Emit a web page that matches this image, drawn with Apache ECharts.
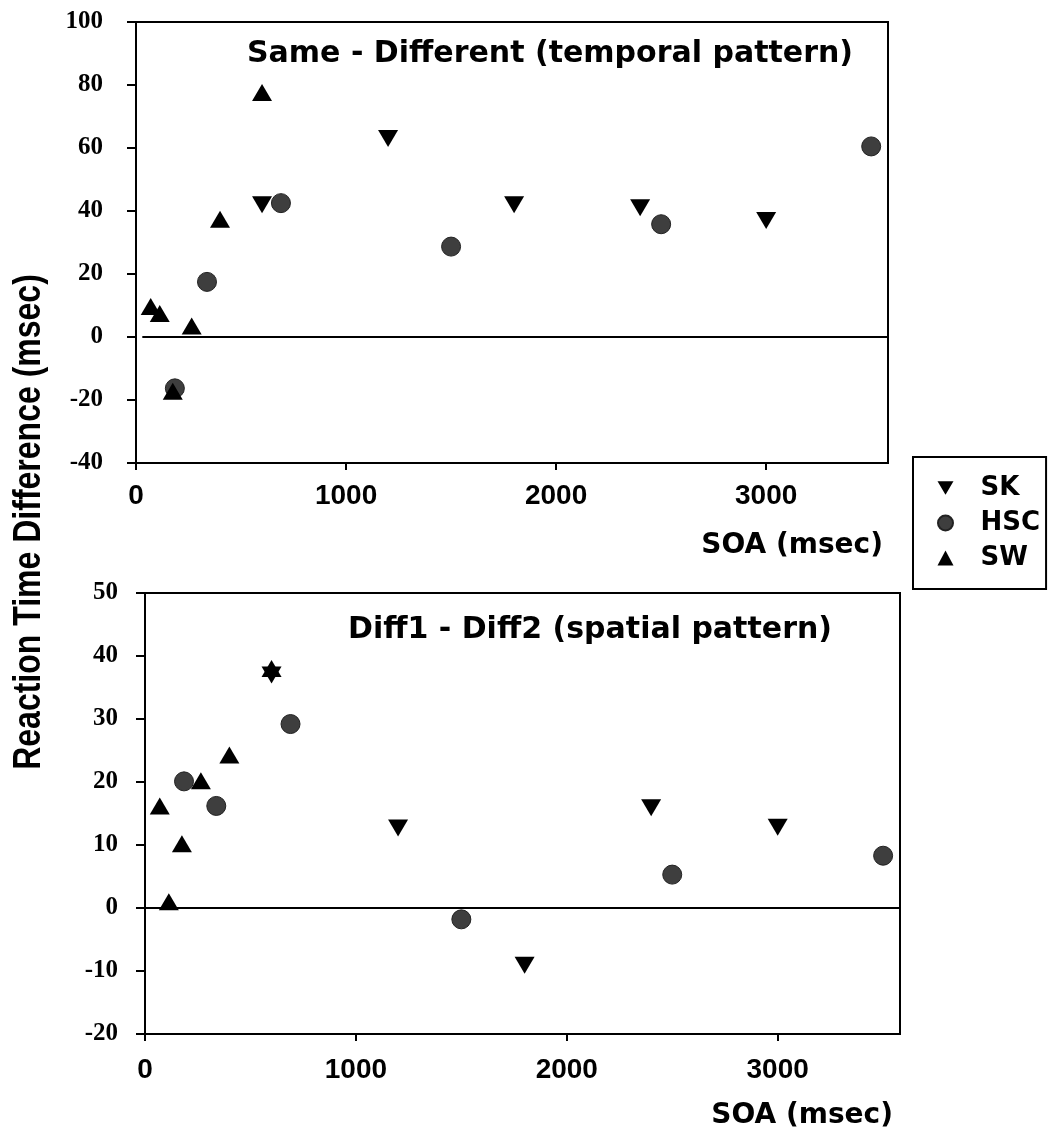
<!DOCTYPE html>
<html>
<head>
<meta charset="utf-8">
<script src="https://cdn.jsdelivr.net/npm/echarts@6/dist/echarts.min.js"></script>
<style>
  html, body { margin: 0; padding: 0; background: #fff; }
  #chart { width: 1048px; height: 1139px; }
</style>
</head>
<body>
<div id="chart"></div>
<script>
// SOA values (msec) for each observer
const skSoa  = [600, 1200, 1800, 2400, 3000];
const hscSoa = [185, 338, 690, 1500, 2500, 3500];
const swSoa  = [70, 113, 175, 265, 400, 600];

// Same - Different (temporal pattern), reaction time difference (msec)
const skTemporal  = [42, 63, 42, 41, 37];
const hscTemporal = [-16.3, 17.5, 42.5, 28.7, 35.8, 60.5];
const swTemporal  = [9.7, 7.5, -17.2, 3.5, 37.4, 77.6];

// Diff1 - Diff2 (spatial pattern), reaction time difference (msec)
const skSpatial  = [37, 12.7, -9.1, 15.9, 12.8];
const hscSpatial = [20.1, 16.2, 29.2, -1.8, 5.3, 8.3];
const swSpatial  = [16.2, 1.0, 10.2, 20.2, 24.3, 38];

const observers = ['SK', 'HSC', 'SW'];
const xTicks = [0, 1000, 2000, 3000];
const soaMax = 3580;
const temporalRange = { min: -40, max: 100, step: 20 };
const spatialRange  = { min: -20, max: 50, step: 10 };

const pair = (xs, ys) => xs.map((x, i) => [x, ys[i]]);

const sans = 'DejaVu Sans';
const black = '#000';
const downTriangle = 'path://M0,0 L20,0 L10,17 Z';

const markerStyle = {
  SK:  { symbol: 'triangle', symbolRotate: 180, symbolSize: [20, 17], itemStyle: { color: black, opacity: 1 } },
  HSC: { symbol: 'circle', symbolRotate: 0, symbolSize: 19, itemStyle: { color: '#3e3e3e', borderColor: '#222', borderWidth: 1, opacity: 1 } },
  SW:  { symbol: 'triangle', symbolRotate: 0, symbolSize: [20, 17], itemStyle: { color: black, opacity: 1 } }
};
const legendIcons = { SK: downTriangle, HSC: 'circle', SW: 'triangle' };

function makeX(gridIndex) {
  return {
    type: 'value', gridIndex, min: 0, max: soaMax, interval: 1000,
    axisLine: { show: true, onZero: false, lineStyle: { color: black, width: 2 } },
    axisTick: { show: true, inside: false, length: 7, lineStyle: { color: black, width: 2 } },
    axisLabel: {
      margin: gridIndex === 0 ? 19 : 22,
      color: black, fontFamily: 'Liberation Sans', fontWeight: 'bold', fontSize: 28,
      showMaxLabel: false,
      formatter: v => (xTicks.indexOf(v) >= 0 ? String(v) : '')
    },
    splitLine: { show: false }
  };
}

function makeY(gridIndex, r) {
  return {
    type: 'value', gridIndex, min: r.min, max: r.max, interval: r.step,
    axisLine: { show: true, onZero: false, lineStyle: { color: black, width: 2 } },
    axisTick: { show: true, length: 9, lineStyle: { color: black, width: 2 } },
    axisLabel: {
      margin: gridIndex === 0 ? 33 : 27,
      color: black, fontFamily: 'Liberation Serif', fontWeight: 'bold', fontSize: 25
    },
    splitLine: { show: false }
  };
}

function zeroLine(startX) {
  return {
    silent: true, symbol: 'none', animation: false,
    label: { show: false },
    lineStyle: { color: black, width: 2, type: 'solid', opacity: 1 },
    data: [[{ coord: [startX, 0] }, { coord: [soaMax, 0] }]]
  };
}

function makeSeries(name, gridIndex, xs, ys, withZero, zeroStart) {
  const s = Object.assign({
    type: 'scatter', name,
    xAxisIndex: gridIndex, yAxisIndex: gridIndex,
    data: pair(xs, ys),
    z: 3
  }, markerStyle[name]);
  if (withZero) s.markLine = zeroLine(zeroStart);
  return s;
}

const chart = echarts.init(document.getElementById('chart'), null, { renderer: 'canvas' });

chart.setOption({
  animation: false,
  backgroundColor: '#fff',
  grid: [
    { left: 136, top: 22, width: 752, height: 441, show: true, borderColor: black, borderWidth: 2, backgroundColor: 'transparent' },
    { left: 145, top: 593, width: 755, height: 441, show: true, borderColor: black, borderWidth: 2, backgroundColor: 'transparent' }
  ],
  xAxis: [makeX(0), makeX(1)],
  yAxis: [makeY(0, temporalRange), makeY(1, spatialRange)],
  legend: {
    data: observers.map(n => ({ name: n, icon: legendIcons[n] })),
    orient: 'vertical',
    left: 913, top: 457,
    padding: [18, 6, 18, 24],
    itemWidth: 16, itemHeight: 15, itemGap: 9,
    borderColor: black, borderWidth: 2,
    backgroundColor: '#fff',
    itemStyle: { opacity: 1 },
    textStyle: {
      color: black, fontFamily: sans, fontWeight: 'bold', fontSize: 26,
      lineHeight: 26, padding: [0, 0, 0, 22]
    }
  },
  graphic: [
    {
      type: 'text', x: 247, y: 54,
      style: { text: 'Same - Different (temporal pattern)', font: 'bold 30px "DejaVu Sans"', fill: black,
               align: 'left', verticalAlign: 'middle', textAlign: 'left', textVerticalAlign: 'middle' }
    },
    {
      type: 'text', x: 348, y: 630,
      style: { text: 'Diff1 - Diff2 (spatial pattern)', font: 'bold 30px "DejaVu Sans"', fill: black,
               align: 'left', verticalAlign: 'middle', textAlign: 'left', textVerticalAlign: 'middle' }
    },
    {
      type: 'text', x: 883, y: 546,
      style: { text: 'SOA (msec)', font: 'bold 28px "DejaVu Sans"', fill: black,
               align: 'right', verticalAlign: 'middle', textAlign: 'right', textVerticalAlign: 'middle' }
    },
    {
      type: 'text', x: 893, y: 1116,
      style: { text: 'SOA (msec)', font: 'bold 28px "DejaVu Sans"', fill: black,
               align: 'right', verticalAlign: 'middle', textAlign: 'right', textVerticalAlign: 'middle' }
    },
    {
      type: 'text', x: 29, y: 522, rotation: Math.PI / 2, scaleY: 1.2,
      style: { text: 'Reaction Time Difference (msec)', font: 'bold 32px "Liberation Sans"', fill: black,
               align: 'center', verticalAlign: 'middle', textAlign: 'center', textVerticalAlign: 'middle' }
    }
  ],
  series: [
    makeSeries('SK', 0, skSoa, skTemporal, true, 30),
    makeSeries('HSC', 0, hscSoa, hscTemporal, false),
    makeSeries('SW', 0, swSoa, swTemporal, false),
    makeSeries('SK', 1, skSoa, skSpatial, true, 0),
    makeSeries('HSC', 1, hscSoa, hscSpatial, false),
    makeSeries('SW', 1, swSoa, swSpatial, false)
  ]
});
</script>
</body>
</html>
